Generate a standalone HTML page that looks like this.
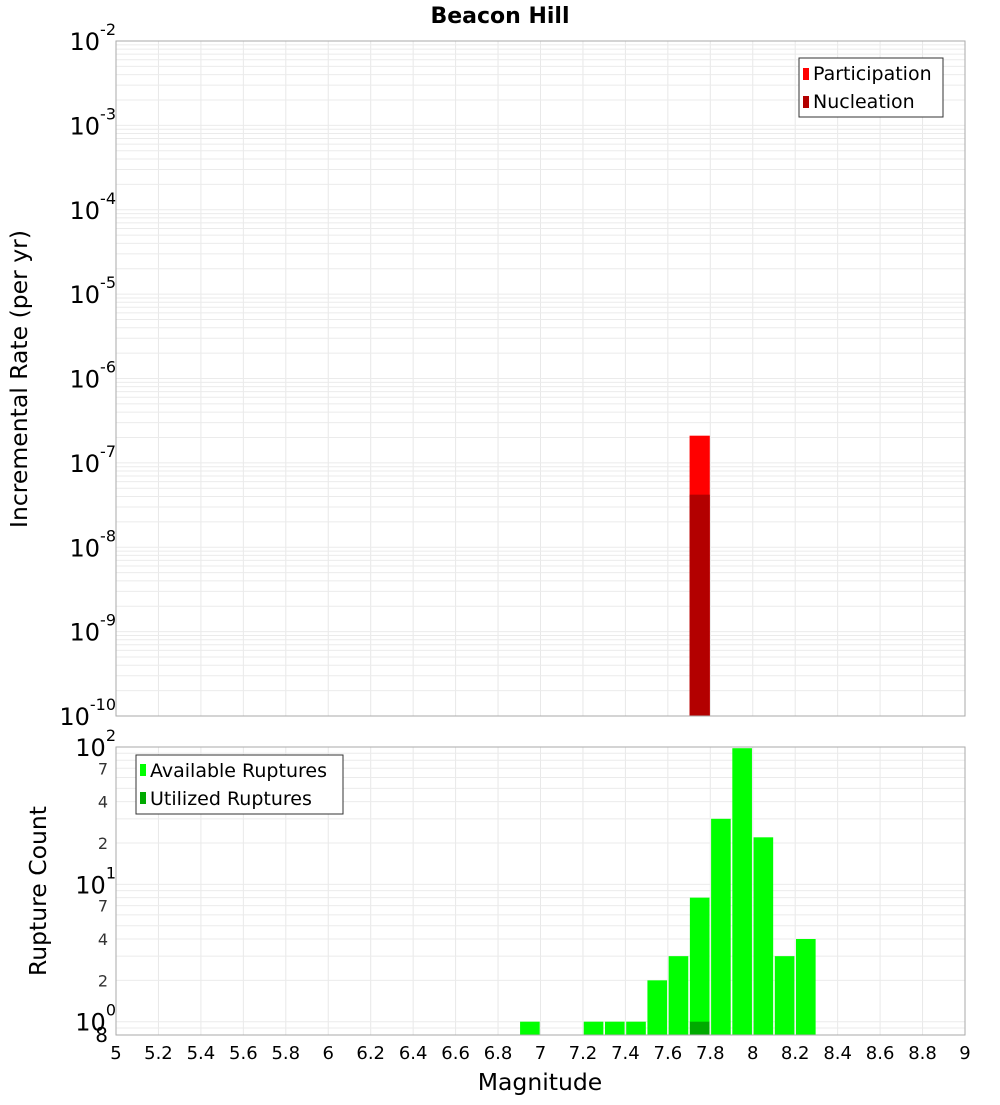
<!DOCTYPE html>
<html><head><meta charset="utf-8">
<style>
body{margin:0;background:#fff;}
svg text{font-family:"DejaVu Sans","Liberation Sans",sans-serif;}
</style></head>
<body>
<svg id="chart" width="1000" height="1100" viewBox="0 0 1000 1100" xmlns="http://www.w3.org/2000/svg">
<text x="500" y="23" text-anchor="middle" font-size="22" font-weight="bold">Beacon Hill</text>
<g id="topPlot"></g>
<g id="botPlot"></g>
<text transform="translate(27,379) rotate(-90)" text-anchor="middle" font-size="23.5">Incremental Rate (per yr)</text>
<text transform="translate(46,891) rotate(-90)" text-anchor="middle" font-size="23.5">Rupture Count</text>
<text x="540" y="1090" text-anchor="middle" font-size="23.5">Magnitude</text>
<g>
<rect x="799" y="58" width="144" height="59" fill="#fff" stroke="#333"/>
<rect x="803" y="68" width="6" height="12" fill="#ff0000"/>
<text x="813" y="80" font-size="19">Participation</text>
<rect x="803" y="96" width="6" height="12" fill="#b30000"/>
<text x="813" y="108" font-size="19">Nucleation</text>
</g>
<g>
<rect x="136" y="755" width="207" height="59" fill="#fff" stroke="#333"/>
<rect x="140" y="764" width="6" height="12" fill="#00ff00"/>
<text x="150" y="777" font-size="19">Available Ruptures</text>
<rect x="140" y="792" width="6" height="12" fill="#00aa00"/>
<text x="150" y="805" font-size="19">Utilized Ruptures</text>
</g>
</svg>
<script>
// data
const rateBins = [7.7];
const participation = [2.1e-7];
const nucleation = [4.2e-8];
const countBins = [6.9,7.2,7.3,7.4,7.5,7.6,7.7,7.8,7.9,8.0,8.1,8.2];
const available = [1,1,1,1,2,3,8,30,98,22,3,4];
const utilizedBins = [7.7];
const utilized = [1];
const xTicks = ["5","5.2","5.4","5.6","5.8","6","6.2","6.4","6.6","6.8","7","7.2","7.4","7.6","7.8","8","8.2","8.4","8.6","8.8","9"];
const rateExps = [-2,-3,-4,-5,-6,-7,-8,-9,-10];
const countExps = [2,1,0];

const NS="http://www.w3.org/2000/svg";
const X0=116,X1=965,XMIN=5,XMAX=9;
const xs=m=>X0+(m-XMIN)/(XMAX-XMIN)*(X1-X0);
const T0=41,T1=716,TMAXL=-2,TMINL=-10;
const yTop=v=>T0+(TMAXL-Math.log10(v))/(TMAXL-TMINL)*(T1-T0);
const B0=747,B1=1035,BMAXL=2,BMINL=Math.log10(0.8);
const yBot=v=>B0+(BMAXL-Math.log10(v))/(BMAXL-BMINL)*(B1-B0);

function mk(parent,tag,attrs){const e=document.createElementNS(NS,tag);for(const k in attrs)e.setAttribute(k,attrs[k]);parent.appendChild(e);return e;}
const topG=document.getElementById('topPlot'), botG=document.getElementById('botPlot');

function grid(g,y0,y1,yf,lmin,lmax){
  for(let i=0;i<xTicks.length;i++){const xx=xs(parseFloat(xTicks[i]));
    const l=mk(g,'line',{x1:xx,x2:xx,y1:y0,y2:y1,stroke:'#e8e8e8'});
    
    }
  for(let d=Math.floor(lmin);d<=lmax;d++){for(let k=1;k<10;k++){const v=k*Math.pow(10,d);const yy=yf(v);
    if(yy<y0-0.5||yy>y1+0.5)continue;
    const l=mk(g,'line',{x1:X0,x2:X1,y1:yy,y2:yy,stroke:'#ebebeb'});
    
    }}
}
grid(topG,T0,T1,yTop,TMINL,TMAXL);
grid(botG,B0,B1,yBot,-1,BMAXL);

for(let i=0;i<rateBins.length;i++){
  const xa=xs(rateBins[i])+0.5,xb=xs(rateBins[i]+0.1)-0.5;
  const r=mk(topG,'rect',{x:xa,y:yTop(participation[i]),width:xb-xa,height:T1-yTop(participation[i]),fill:'#ff0000'});
  
  
  const n=mk(topG,'rect',{x:xa,y:yTop(nucleation[i]),width:xb-xa,height:T1-yTop(nucleation[i]),fill:'#b30000'});
  
  
}
for(let i=0;i<countBins.length;i++){
  const xa=xs(countBins[i])+0.8,xb=xs(countBins[i]+0.1)-0.8;
  const r=mk(botG,'rect',{x:xa,y:yBot(available[i]),width:xb-xa,height:B1-yBot(available[i]),fill:'#00ff00'});
  
  
}
for(let i=0;i<utilizedBins.length;i++){
  const xa=xs(utilizedBins[i])+0.8,xb=xs(utilizedBins[i]+0.1)-0.8;
  const r=mk(botG,'rect',{x:xa,y:yBot(utilized[i]),width:xb-xa,height:B1-yBot(utilized[i]),fill:'#00aa00'});
  
  
}
const f1=mk(topG,'rect',{x:X0,y:T0,width:X1-X0,height:T1-T0,fill:'none',stroke:'#aaa'});


const f2=mk(botG,'rect',{x:X0,y:B0,width:X1-X0,height:B1-B0,fill:'none',stroke:'#aaa'});



function powLabel(g,yy,e,name){
  const t=mk(g,'text',{x:116,y:yy+9,'text-anchor':'end','font-size':'24'});
  
  
  t.appendChild(document.createTextNode('10'));
  const s=mk(t,'tspan',{dy:-15,'font-size':'16'});s.textContent=String(e);
}
for(const e of rateExps){powLabel(topG,yTop(Math.pow(10,e)),e,'rate-y-tick-label');}
for(const e of countExps){powLabel(botG,yBot(Math.pow(10,e)),e,'count-y-tick-label');}
for(const d of [0,1]){for(const k of [2,4,7]){const yy=yBot(k*Math.pow(10,d));
  const t=mk(botG,'text',{x:108,y:yy+6,'text-anchor':'end','font-size':'16',fill:'#333'});
  
  
  t.textContent=String(k);}}
{const t=mk(botG,'text',{x:108,y:yBot(0.8)+7,'text-anchor':'end','font-size':'20'});


t.textContent='8';}
for(const s of xTicks){const t=mk(botG,'text',{x:xs(parseFloat(s)),y:1059,'text-anchor':'middle','font-size':'18'});
  
  
  t.textContent=s;}
</script>
</body></html>
